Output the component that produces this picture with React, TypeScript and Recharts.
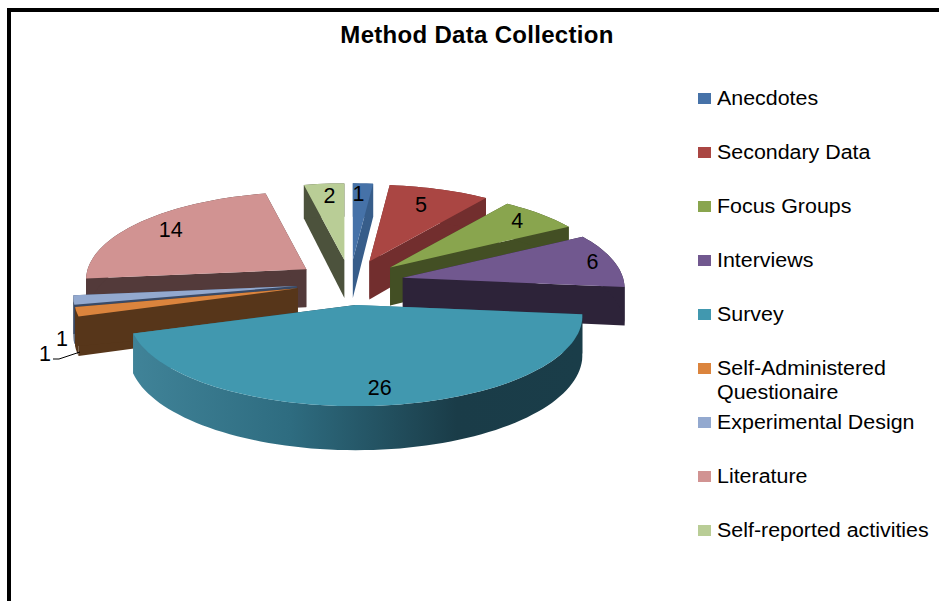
import { PieChart, Pie, Legend } from 'recharts';

const CATEGORIES = [
  'Anecdotes',
  'Secondary Data',
  'Focus Groups',
  'Interviews',
  'Survey',
  'Self-Administered Questionaire',
  'Experimental Design',
  'Literature',
  'Self-reported activities',
];
const VALUES = [1, 5, 4, 6, 26, 1, 1, 14, 2];

const TOP_COLORS = ['#4672A8', '#AA4643', '#89A54E', '#71588F', '#4198AF', '#DB843D', '#93A9CF', '#D19392', '#B9CD96'];
const WALL_COLORS = ['#375D8A', '#722E2E', '#434F24', '#2D2339', 'url(#surveyWall)', '#57361A', '#3A4A66', '#533A3A', '#4C523C'];

// back to front, so nearer slices paint over the ones behind them
const DRAW_ORDER = [8, 0, 1, 2, 3, 7, 6, 5, 4];

const TILT = 0.395;
const PERSPECTIVE = 0.12;
const EXPLODE_X = 54;
const EXPLODE_Y = 22.5;
const EXPLODE_DEPTH = 0.15;
const DEPTH = 38;
const LABEL_RADII = [0.85, 0.76, 0.85, 0.9, 0.84, 0.8, 0.8, 0.81, 0.82];
const LABEL_SHIFT_X = [-3, -3, -2, 0, 2, 0, 0, 0, 2];
const FONT = '"Liberation Sans", Arial, sans-serif';

// the two thin slices carry their labels outside the pie
const OUTSIDE_LABELS: Record<number, { x: number; y: number }> = {
  5: { x: 45, y: 354 },
  6: { x: 62, y: 339 },
};

const chartData = CATEGORIES.map((name, i) => ({ name, value: VALUES[i], fill: TOP_COLORS[i] }));

const toRad = (deg: number) => (deg * Math.PI) / 180;

const Slice = ({ cx, cy, outerRadius, startAngle, endAngle, index, value, fill }: any) => {
  const from = 90 - startAngle;
  const to = 90 - endAngle;
  const mid = (from + to) / 2;
  const tipX = cx + EXPLODE_X * Math.sin(toRad(mid));
  const tipY = cy - EXPLODE_Y * Math.cos(toRad(mid));
  const backShift = EXPLODE_DEPTH * Math.cos(toRad(mid));

  // clockwise degrees from 12 o'clock, r as a fraction of the radius
  const project = (deg: number, r: number) => {
    const a = r * Math.sin(toRad(deg));
    const b = r * Math.cos(toRad(deg));
    const s = 1 / (1 + PERSPECTIVE * (b + backShift));
    return { x: tipX + outerRadius * a * s, y: tipY - outerRadius * TILT * b * s, d: DEPTH * s };
  };

  const rim: { x: number; y: number; d: number }[] = [];
  const steps = Math.max(2, Math.ceil((to - from) / 2));
  for (let i = 0; i <= steps; i++) rim.push(project(from + ((to - from) * i) / steps, 1));

  const pts = (list: { x: number; y: number }[]) =>
    list.map((p) => `${p.x.toFixed(1)},${p.y.toFixed(1)}`).join(' ');
  const down = (p: { x: number; y: number; d: number }) => ({ x: p.x, y: p.y + p.d });

  const tip = { x: tipX, y: tipY, d: DEPTH };
  const first = rim[0];
  const last = rim[rim.length - 1];
  const wall = WALL_COLORS[index];

  const labelPos = OUTSIDE_LABELS[index] || project(mid, LABEL_RADII[index]);

  return (
    <g>
      {index === 4 && (
        <defs>
          <linearGradient id="surveyWall" x1="0" y1="0" x2="1" y2="0">
            <stop offset="0" stopColor="#408398" />
            <stop offset="0.35" stopColor="#2E6C80" />
            <stop offset="0.72" stopColor="#1A3C48" />
            <stop offset="1" stopColor="#1A3D49" />
          </linearGradient>
        </defs>
      )}
      <polygon points={pts([tip, first, down(first), down(tip)])} fill={wall} />
      <polygon points={pts([tip, last, down(last), down(tip)])} fill={wall} />
      <polygon points={pts([...rim, ...[...rim].reverse().map(down)])} fill={wall} />
      <polygon points={pts([tip, ...rim])} fill={fill} />
      {index === 5 && <polyline points="53,359 59,359 80,352" fill="none" stroke="#000" strokeWidth={1} />}
      <text
        x={labelPos.x + LABEL_SHIFT_X[index]}
        y={labelPos.y}
        textAnchor="middle"
        dominantBaseline="central"
        fontFamily={FONT}
        fontSize={21.5}
        fill="#000"
      >
        {value}
      </text>
    </g>
  );
};

const LegendList = ({ payload }: any) => {
  const seen = new Set<string>();
  const items = (payload || []).filter((p: any) => {
    if (seen.has(p.value)) return false;
    seen.add(p.value);
    return true;
  });
  return (
    <div style={{ fontFamily: FONT, fontSize: 20, color: '#000' }}>
      {items.map((item: any) => (
        <div key={item.value} style={{ height: 54, display: 'flex', alignItems: 'flex-start' }}>
          <span
            style={{ width: 13, height: 11, marginTop: 7, marginRight: 6, background: item.color, flex: 'none' }}
          />
          <span
            style={{ lineHeight: '24px', width: 205, transform: 'scaleX(1.07)', transformOrigin: 'left top' }}
          >
            {item.value}
          </span>
        </div>
      ))}
    </div>
  );
};

export default function App() {
  return (
    <div
      style={{
        position: 'absolute',
        left: 0,
        top: 0,
        width: 939,
        height: 601,
        overflow: 'hidden',
        background: '#fff',
      }}
    >
      <div style={{ position: 'absolute', left: 7, top: 8, width: 1000, height: 700, borderLeft: '4px solid #000', borderTop: '4px solid #000' }} />
      <div style={{ position: 'absolute', left: 0, top: 0 }}>
        <PieChart width={939} height={601} margin={{ top: 0, right: 0, bottom: 0, left: 0 }}>
          <text
            x={477}
            y={34}
            textAnchor="middle"
            dominantBaseline="central"
            fontFamily={FONT}
            fontSize={24}
            letterSpacing={0.3}
            fontWeight="bold"
            fill="#000"
          >
            Method Data Collection
          </text>
          {DRAW_ORDER.map((sliceIndex) => (
            <Pie
              key={sliceIndex}
              data={chartData}
              dataKey="value"
              nameKey="name"
              cx={350}
              cy={282.5}
              innerRadius={0}
              outerRadius={221}
              startAngle={90}
              endAngle={-270}
              stroke="none"
              legendType={sliceIndex === DRAW_ORDER[0] ? 'rect' : 'none'}
              isAnimationActive={false}
              labelLine={false}
              shape={(p: any) => (p.index === sliceIndex ? <Slice {...p} /> : <g />)}
            />
          ))}
          <Legend
            layout="vertical"
            content={<LegendList />}
            itemSorter={null}
            wrapperStyle={{ position: 'absolute', left: 698, top: 86, width: 241 }}
          />
        </PieChart>
      </div>
    </div>
  );
}
